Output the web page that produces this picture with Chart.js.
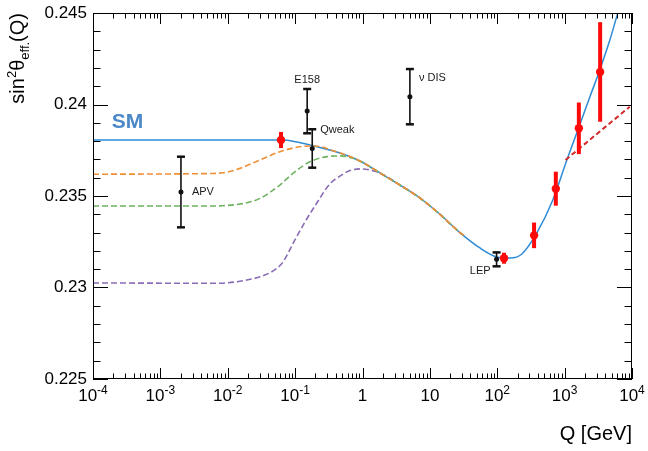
<!DOCTYPE html>
<html>
<head>
<meta charset="utf-8">
<script src="https://cdn.jsdelivr.net/npm/chart.js@4.4.1/dist/chart.umd.min.js"></script>
<style>
  html, body { margin: 0; padding: 0; background: #fff; }
  canvas { display: block; }
</style>
</head>
<body>
<canvas id="chart" width="648" height="451"></canvas>
<script>
const FONT = '"Liberation Sans", Arial, Helvetica, sans-serif';

// SM running of sin^2 theta_eff
const smQ   = [1e-4, 0.0659, 0.106, 0.166, 0.462, 0.98, 1.81, 3.59, 7.11, 14.1, 27.9, 55.2, 98.6, 154, 232, 387, 668, 1079, 1570, 2366, 3327, 4688, 6152];
const smVal = [0.23806, 0.23806, 0.23795, 0.23779, 0.23735, 0.23686, 0.23626, 0.23560, 0.23489, 0.23400, 0.23300, 0.23216, 0.23167, 0.23161, 0.23183, 0.23298, 0.23478, 0.23697, 0.23861, 0.24041, 0.24189, 0.24352, 0.24500];

// dashed variants
const orangeQ   = [1e-4, 0.00387, 0.00849, 0.0152, 0.0301, 0.0594, 0.118, 0.197, 0.390, 0.98, 1.81, 3.59, 7.11, 14.1, 27.9, 31.6];
const orangeVal = [0.23619, 0.23622, 0.23627, 0.23651, 0.23697, 0.23742, 0.23769, 0.23773, 0.23744, 0.23686, 0.23626, 0.23560, 0.23489, 0.23400, 0.23300, 0.23285];
const greenQ    = [1e-4, 0.00387, 0.0152, 0.0301, 0.0594, 0.0927, 0.166, 0.296, 0.462, 0.721, 0.98, 1.81, 3.59, 7.11, 14.1, 27.9, 31.6];
const greenVal  = [0.23445, 0.23445, 0.23456, 0.23487, 0.23560, 0.23624, 0.23687, 0.23715, 0.23719, 0.23706, 0.23686, 0.23626, 0.23560, 0.23489, 0.23400, 0.23300, 0.23285];
const purpleQ   = [1e-4, 0.00692, 0.0168, 0.0356, 0.0537, 0.0659, 0.0993, 0.140, 0.210, 0.328, 0.462, 0.650, 0.914, 1.29, 1.81, 3.59, 7.11, 14.1, 27.9, 31.6];
const purpleVal = [0.23025, 0.23023, 0.23037, 0.23068, 0.23105, 0.23139, 0.23260, 0.23358, 0.23462, 0.23566, 0.23609, 0.23639, 0.23648, 0.23642, 0.23626, 0.23560, 0.23489, 0.23400, 0.23300, 0.23285];
const redLineQ   = [1030, 9270];
const redLineVal = [0.23697, 0.23988];

// measurements
const measLabels = ['APV', 'E158', 'Qweak', 'ν DIS', 'LEP'];
const measQ      = [0.00202, 0.151, 0.1795, 5.05, 97.7];
const measVal    = [0.23522, 0.23964, 0.23760, 0.24043, 0.23154];
const measErr    = [0.00193, 0.00121, 0.00105, 0.00151, 0.00038];

// projections
const projQ   = [0.0617, 126, 352, 740, 1626, 3366];
const projVal = [0.23806, 0.23160, 0.23285, 0.23540, 0.23870, 0.24178];
const projErr = [0.00044, 0.00030, 0.00070, 0.00093, 0.00141, 0.00272];

// axis ticks
const xTickValues = [1e-4, 1e-3, 1e-2, 1e-1, 1, 10, 100, 1000, 10000];
const xTickBase   = ['10', '10', '10', '10', '1', '10', '10', '10', '10'];
const xTickExp    = ['-4', '-3', '-2', '-1', '', '', '2', '3', '4'];
const yTickValues = [0.225, 0.23, 0.235, 0.24, 0.245];
const yTickLabels = ['0.225', '0.23', '0.235', '0.24', '0.245'];

const labelStyle = [
  { align: 'left',   base: 'middle',     dx: 11, dy: 0 },
  { align: 'center', base: 'alphabetic', dx: 0,  dy: -28 },
  { align: 'left',   base: 'alphabetic', dx: 8,  dy: -15 },
  { align: 'left',   base: 'alphabetic', dx: 9,  dy: -15.5 },
  { align: 'right',  base: 'alphabetic', dx: -6, dy: 15 }
];

const pts = (qs, vs) => qs.map((q, i) => ({ x: q, y: vs[i] }));

function curveSet(qs, vs, color, dash, order, width) {
  return {
    data: pts(qs, vs), borderColor: color, borderWidth: width, borderDash: dash,
    pointRadius: 0, cubicInterpolationMode: 'monotone', fill: false, order: order, clip: 0
  };
}

const rootAxes = {
  id: 'rootAxes',
  afterDatasetsDraw(chart) {
    const { ctx, chartArea: a, scales: { x, y } } = chart;
    ctx.save();

    // error bars
    measQ.forEach((q, i) => {
      const px = x.getPixelForValue(q);
      const t = y.getPixelForValue(measVal[i] + measErr[i]);
      const b = y.getPixelForValue(measVal[i] - measErr[i]);
      ctx.strokeStyle = '#111'; ctx.lineWidth = 1.6;
      ctx.beginPath(); ctx.moveTo(px, t); ctx.lineTo(px, b); ctx.stroke();
      ctx.fillStyle = '#111';
      ctx.fillRect(px - 4, t - 1.2, 8, 2.5);
      ctx.fillRect(px - 4, b - 1.2, 8, 2.5);
    });
    projQ.forEach((q, i) => {
      const px = x.getPixelForValue(q);
      const t = y.getPixelForValue(projVal[i] + projErr[i]);
      const b = y.getPixelForValue(projVal[i] - projErr[i]);
      ctx.strokeStyle = '#ff0a0a'; ctx.lineWidth = 4;
      ctx.beginPath(); ctx.moveTo(px, t); ctx.lineTo(px, b); ctx.stroke();
    });

    // measurement labels
    ctx.fillStyle = '#1a1a1a';
    ctx.font = '11px ' + FONT;
    measLabels.forEach((txt, i) => {
      const s = labelStyle[i];
      const px = x.getPixelForValue(measQ[i]);
      const py = y.getPixelForValue(measVal[i]);
      ctx.textAlign = s.align; ctx.textBaseline = s.base;
      ctx.fillText(txt, px + s.dx, py + s.dy);
    });

    // SM label
    ctx.fillStyle = '#4a88c7';
    ctx.font = 'bold 21px ' + FONT;
    ctx.textAlign = 'left'; ctx.textBaseline = 'alphabetic';
    ctx.fillText('SM', x.getPixelForValue(1.9e-4), y.getPixelForValue(smVal[0]) - 12);

    // frame
    ctx.strokeStyle = '#000'; ctx.lineWidth = 1;
    ctx.strokeRect(a.left + 0.5, a.top + 0.5, a.right - a.left - 1, a.bottom - a.top - 1);

    const seg = (x1, y1, x2, y2) => { ctx.beginPath(); ctx.moveTo(x1, y1); ctx.lineTo(x2, y2); ctx.stroke(); };

    // x ticks (log, inward, top and bottom)
    for (let k = -4; k <= 4; k++) {
      for (let m = 1; m <= 9; m++) {
        if (k === 4 && m > 1) break;
        const px = Math.round(x.getPixelForValue(m * Math.pow(10, k))) + 0.5;
        const len = m === 1 ? 11 : 5.5;
        seg(px, a.bottom, px, a.bottom - len);
        seg(px, a.top, px, a.top + len);
      }
    }
    // y ticks (left and right)
    for (let i = 225; i <= 245; i++) {
      const py = Math.round(y.getPixelForValue(i / 1000)) + 0.5;
      const len = i % 5 === 0 ? 15 : 7.5;
      seg(a.left, py, a.left + len, py);
      seg(a.right, py, a.right - len, py);
    }

    // tick labels
    ctx.fillStyle = '#000';
    ctx.textBaseline = 'alphabetic';
    xTickValues.forEach((v, i) => {
      const px = x.getPixelForValue(v);
      ctx.font = '17px ' + FONT;
      const bw = ctx.measureText(xTickBase[i]).width;
      ctx.font = '12px ' + FONT;
      const ew = xTickExp[i] ? ctx.measureText(xTickExp[i]).width : 0;
      const x0 = px - (bw + ew) / 2;
      ctx.textAlign = 'left';
      ctx.font = '17px ' + FONT;
      ctx.fillText(xTickBase[i], x0, a.bottom + 22);
      if (ew) {
        ctx.font = '12px ' + FONT;
        ctx.fillText(xTickExp[i], x0 + bw, a.bottom + 15);
      }
    });
    ctx.font = '17px ' + FONT;
    ctx.textAlign = 'right'; ctx.textBaseline = 'middle';
    yTickValues.forEach((v, i) => {
      ctx.fillText(yTickLabels[i], a.left - 6, y.getPixelForValue(v));
    });

    // axis titles
    ctx.font = '20px ' + FONT;
    ctx.textAlign = 'right'; ctx.textBaseline = 'alphabetic';
    ctx.fillText('Q [GeV]', a.right, 440);

    const parts = [['sin', 20, 0], ['2', 13, -8], ['θ', 20, 0], ['eff.', 13, 5], ['(Q)', 20, 0]];
    let total = 0;
    parts.forEach(p => { ctx.font = p[1] + 'px ' + FONT; total += ctx.measureText(p[0]).width; });
    ctx.translate(24, a.top);
    ctx.rotate(-Math.PI / 2);
    ctx.textAlign = 'left';
    let cx = -total;
    parts.forEach(p => {
      ctx.font = p[1] + 'px ' + FONT;
      ctx.fillText(p[0], cx, p[2]);
      cx += ctx.measureText(p[0]).width;
    });

    ctx.restore();
  }
};

new Chart(document.getElementById('chart').getContext('2d'), {
  type: 'line',
  data: {
    datasets: [
      { data: pts(measQ, measVal), showLine: false, pointRadius: 2.5, pointBackgroundColor: '#111', pointBorderWidth: 0, order: 1 },
      { data: pts(projQ, projVal), showLine: false, pointRadius: 4.2, pointBackgroundColor: '#ff0a0a', pointBorderWidth: 0, order: 1 },
      { data: pts(redLineQ, redLineVal), borderColor: '#d42a2a', borderWidth: 2, borderDash: [5, 3], pointRadius: 0, tension: 0, order: 2, clip: 0 },
      curveSet(orangeQ, orangeVal, '#ef8f35', [6, 3], 3, 1.6),
      curveSet(greenQ, greenVal, '#6db35f', [6, 3], 3, 1.6),
      curveSet(purpleQ, purpleVal, '#8a6bb5', [6, 3], 3, 1.6),
      curveSet(smQ, smVal, '#2e8bd6', [], 4, 1.5)
    ]
  },
  options: {
    responsive: false,
    animation: false,
    events: [],
    layout: { padding: { left: 93, right: 16, top: 13, bottom: 72 } },
    plugins: { legend: { display: false }, tooltip: { enabled: false } },
    scales: {
      x: { type: 'logarithmic', min: 1e-4, max: 1e4, display: false },
      y: { type: 'linear', min: 0.225, max: 0.245, display: false }
    }
  },
  plugins: [rootAxes]
});
</script>
</body>
</html>
